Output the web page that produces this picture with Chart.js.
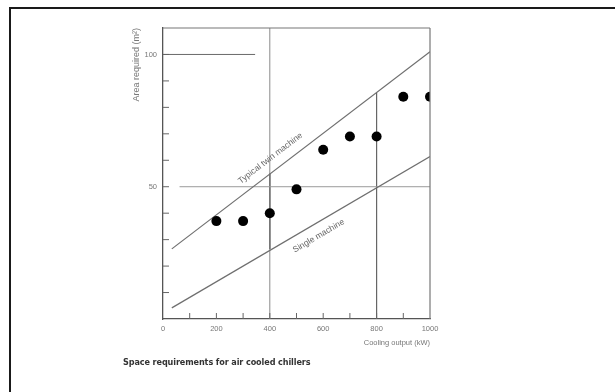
<!DOCTYPE html>
<html>
<head>
<meta charset="utf-8">
<script src="https://cdn.jsdelivr.net/npm/chart.js@4.4.1/dist/chart.umd.min.js"></script>
<style>
  html, body { margin: 0; padding: 0; background: #fff; }
  #wrap { position: relative; width: 615px; height: 392px; overflow: hidden; }
  #marco { position: absolute; left: 9px; top: 7px; right: -5px; bottom: -5px;
           border-top: 2px solid #1a1a1a; border-left: 2px solid #1a1a1a; }
  #pie { position: absolute; left: 123px; top: 357px; font: bold 9px "DejaVu Sans Condensed", "DejaVu Sans", sans-serif;
         color: #333; letter-spacing: -0.1px; }
  canvas { position: absolute; left: 0; top: 0; }
</style>
</head>
<body>
<div id="wrap">
  <div id="marco"></div>
  <canvas id="grafica" width="615" height="392"></canvas>
  <div id="pie">Space requirements for air cooled chillers</div>
</div>
<script>
// Datos
const potencia = [200, 300, 400, 500, 600, 700, 800, 900, 1000];   // kW
const area = [37, 37, 40, 49, 64, 69, 69, 84, 84];                  // m²

// rectas de referencia (kW, m²)
const lineaDoble = [[33, 26.5], [1000, 101]];
const lineaSimple = [[33, 4.2], [1000, 61.4]];

// líneas guía del dibujo original
const guia100 = [[0, 100], [345, 100]];
const guia50 = [[62, 50], [1000, 50]];
const guia400 = [[400, 0], [400, 110]];
const guia400Fuerte = [[400, 26.5], [400, 55]];
const guia800 = [[800, 0], [800, 85.6]];

const ticksX = [0, 200, 400, 600, 800, 1000];
const ticksY = [50, 100];

const etiquetaDoble = "Typical twin machine";
const etiquetaSimple = "Single machine";

const fuenteEje = '"Liberation Sans Narrow", "Liberation Sans", sans-serif';

const aPuntos = (arr) => arr.map(p => ({ x: p[0], y: p[1] }));

function segmento(arr, color, ancho) {
  return { data: aPuntos(arr), showLine: true, borderColor: color, borderWidth: ancho,
           pointRadius: 0, fill: false };
}

// Plugin: marco superior/derecho, marcas hacia dentro y rótulos sobre las rectas
const extras = {
  id: 'extras',
  afterDatasetsDraw(chart) {
    const { ctx, chartArea: ca, scales: { x, y } } = chart;
    ctx.save();
    ctx.strokeStyle = '#777';
    ctx.lineWidth = 1.2;
    ctx.beginPath();
    ctx.moveTo(ca.left, ca.top); ctx.lineTo(ca.right, ca.top);
    ctx.moveTo(ca.right, ca.top); ctx.lineTo(ca.right, ca.bottom);
    ctx.stroke();

    // marcas menores hacia dentro
    ctx.strokeStyle = '#666';
    ctx.lineWidth = 1;
    ctx.beginPath();
    for (let v = 100; v < 1000; v += 100) {
      const px = x.getPixelForValue(v);
      ctx.moveTo(px, ca.bottom); ctx.lineTo(px, ca.bottom - 6);
    }
    for (let v = 10; v <= 100; v += 10) {
      const py = y.getPixelForValue(v);
      ctx.moveTo(ca.left, py); ctx.lineTo(ca.left + 6, py);
    }
    ctx.stroke();

    // rótulos inclinados
    function rotulo(linea, xv, texto, arriba) {
      const x0 = x.getPixelForValue(linea[0][0]), y0 = y.getPixelForValue(linea[0][1]);
      const x1 = x.getPixelForValue(linea[1][0]), y1 = y.getPixelForValue(linea[1][1]);
      const ang = Math.atan2(y1 - y0, x1 - x0);
      const t = (xv - linea[0][0]) / (linea[1][0] - linea[0][0]);
      const yv = linea[0][1] + t * (linea[1][1] - linea[0][1]);
      ctx.save();
      ctx.translate(x.getPixelForValue(xv), y.getPixelForValue(yv));
      ctx.rotate(ang);
      ctx.fillStyle = '#666';
      ctx.font = '8.5px ' + fuenteEje;
      ctx.textAlign = 'center';
      ctx.textBaseline = arriba ? 'bottom' : 'top';
      ctx.fillText(texto, 0, arriba ? -8 : 8);
      ctx.restore();
    }
    rotulo(lineaDoble, 430, etiquetaDoble, true);
    rotulo(lineaSimple, 560, etiquetaSimple, false);
    ctx.restore();
  }
};

new Chart(document.getElementById('grafica'), {
  type: 'scatter',
  data: {
    datasets: [
      { data: potencia.map((p, i) => ({ x: p, y: area[i] })), backgroundColor: '#000', borderWidth: 0,
        pointRadius: 5, pointHoverRadius: 5 },
      segmento(lineaDoble, '#6f6f6f', 1.2),
      segmento(lineaSimple, '#6f6f6f', 1.2),
      segmento(guia100, '#6a6a6a', 1),
      segmento(guia50, '#9a9a9a', 1),
      segmento(guia400, '#8a8a8a', 1),
      segmento(guia400Fuerte, '#444', 1.5),
      segmento(guia800, '#666', 1.2)
    ]
  },
  options: {
    responsive: false,
    animation: false,
    events: [],
    layout: { padding: { left: 123, top: 28, right: 185, bottom: 43 } },
    plugins: { legend: { display: false }, tooltip: { enabled: false } },
    scales: {
      x: {
        type: 'linear', min: 0, max: 1000,
        afterFit: (s) => { s.height = 30; },
        afterBuildTicks: (s) => { s.ticks = ticksX.map(v => ({ value: v })); },
        grid: { drawOnChartArea: false, drawTicks: false },
        border: { color: '#555', width: 1.3 },
        ticks: { color: '#777', font: { size: 7.5, family: fuenteEje }, padding: 5, maxRotation: 0,
                 callback: (v) => String(v) },
        title: { display: true, text: 'Cooling output (kW)', align: 'end', color: '#777',
                 font: { size: 7.5, family: fuenteEje }, padding: { top: 0, bottom: 2 } }
      },
      y: {
        type: 'linear', min: 0, max: 110,
        afterFit: (s) => { s.width = 40; },
        afterBuildTicks: (s) => { s.ticks = ticksY.map(v => ({ value: v })); },
        grid: { drawOnChartArea: false, drawTicks: false },
        border: { color: '#555', width: 1.3 },
        ticks: { color: '#777', font: { size: 7.5, family: fuenteEje }, padding: 6,
                 callback: (v) => String(v) },
        title: { display: true, text: 'Area required (m²)', align: 'end', color: '#777',
                 font: { size: 9, family: fuenteEje }, padding: { top: 8, bottom: 0 } }
      }
    }
  },
  plugins: [extras]
});
</script>
</body>
</html>
